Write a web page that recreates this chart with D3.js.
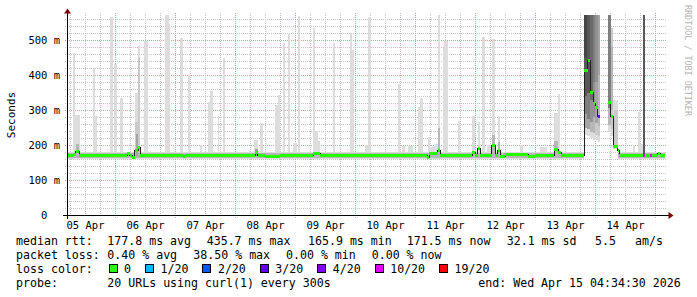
<!DOCTYPE html>
<html><head><meta charset="utf-8">
<script src="https://cdn.jsdelivr.net/npm/d3@7"></script>
<style>
html,body{margin:0;padding:0;background:#fff;}
svg{display:block;}
text{font-family:"DejaVu Sans Mono", monospace; white-space:pre;}
</style></head><body>
<svg id="chart" width="697" height="297"></svg>
<script>
// ---------------- data ----------------
const viewStartHour = 4.8;      // hours after 2026-04-05 00:00 UTC
const viewEndHour = 244.8;
const yMaxMs = 571.43;

const yTickValues = [0, 100, 200, 300, 400, 500];
const yTickLabels = ["0  ", "100 m", "200 m", "300 m", "400 m", "500 m"];
const dayLabels = ["05 Apr","06 Apr","07 Apr","08 Apr","09 Apr","10 Apr","11 Apr","12 Apr","13 Apr","14 Apr"];

// median rtt (ms) as a step series; null = no data
const medHour = [4.8,7.2,8.3,9.6,23.6,28.9,29.9,30.9,31.9,33.2,34.0,51.2,52.0,80.0,81.1,84.0,90.0,103.2,106.0,
  148.8,149.6,153.1,154.0,166.9,168.0,169.1,170.0,174.7,176.0,177.1,178.0,180.0,189.2,192.0,199.7,201.3,202.4,
  211.7,213.1,214.1,215.2,216.1,217.1,218.1,221.1,222.2,223.3,225.1,225.7,235.1,236.0,238.0,238.9,241.1,242.0,244.0];
const medValue = [172,175,182,171,172,178,172,167,187,195,172,169,172,180,172,170,172,177,172,
  166,178,186,172,180,172,191,171,199,171,187,170,174,169,171,190,180,172,
  415,442,351,320,310,283,null,323,284,196,186,172,172,172,172,172,178,171,171];
const medLoss = [0,0,0,0,0,0,0,0,0,0,0,0,0,0,0,0,0,0,0,
  0,0,0,0,0,0,0,0,0,0,0,0,0,0,0,0,0,0,
  0,0,0,0,0,4,0,0,0,0,0,0,10,0,10,0,0,0,0];

// smoke around the normal level
const bandStart = [4.8, 4.8, 225.3, 225.3];
const bandEnd   = [211.7, 211.7, 244.0, 244.0];
const bandLow   = [160, 163, 160, 163];
const bandHigh  = [181, 177, 181, 177];
const bandLevel = [1, 3, 1, 3];

// smoke spikes (ping spread), level 1 = outermost pair (lightest)
const smokeStart = [7.2,7.6,8.4,15.2,15.2,22.0,23.6,26.0,31.9,31.9,32.4,33.2,33.2,35.6,44.0,45.4,50.0,53.2,58.0,61.1,62.0,65.1,67.1,
  79.6,80.0,82.0,88.0,89.0,91.1,93.1,95.2,97.1,103.1,103.5,104.7,111.1,118.0,118.8,124.0,125.2,137.1,138.7,141.1,145.1,146.0,
  149.3,150.0,152.0,153.1,153.1,155.1,155.7,161.1,166.9,169.1,170.9,172.7,174.9,174.9,177.1,177.1,186.0,194.0,199.7,199.7,201.1,
  211.7,211.7,211.7,211.7,211.7, 212.8,212.8,212.8,212.8, 213.9,213.9,213.9,213.9, 215.0,215.0,215.0,215.0,
  216.1,216.1,216.1,216.1, 217.1,217.1,217.1,217.1, 221.1,221.1,221.1, 222.2,222.2,222.2, 223.3,223.7,
  231.2,233.1,234.0,235.1];
const smokeEnd = [8.0,10.0,9.6,16.0,16.8,23.2,24.8,27.2,33.2,33.2,33.2,34.0,34.0,37.2,45.4,46.0,51.1,54.0,58.8,62.3,63.1,65.7,68.0,
  81.1,81.1,83.2,89.6,90.0,92.0,94.0,96.7,98.0,104.0,105.1,106.0,112.0,118.8,119.6,125.2,126.2,138.0,140.0,143.3,146.3,147.3,
  150.1,152.0,153.3,154.0,154.0,156.0,157.1,162.0,168.0,170.0,172.0,174.0,176.0,176.0,178.0,178.0,187.3,196.8,201.3,201.3,202.0,
  212.8,212.8,212.8,212.8,212.8, 213.9,213.9,213.9,213.9, 215.0,215.0,215.0,215.0, 216.1,216.1,216.1,216.1,
  217.1,217.1,217.1,217.1, 218.1,218.1,218.1,218.1, 222.2,222.2,222.2, 223.3,223.3,223.3, 225.3,225.1,
  232.0,234.0,235.1,236.0];
const smokeLow = [165,165,168,165,165,165,165,165,165,168,170,165,168,165,165,165,165,165,165,165,165,165,165,
  165,168,165,165,165,165,165,165,165,165,165,165,165,165,165,165,165,165,165,165,165,165,
  165,165,165,165,168,165,165,165,165,165,165,165,165,168,165,168,165,165,165,168,165,
  228,250,290,340,450, 225,245,275,350, 220,238,265,330, 215,235,280,380,
  213,228,262,380, 210,225,255,400, 238,258,306, 226,245,300, 190,196,
  165,165,165,172];
const smokeHigh = [463,285,203,420,283,566,431,334,348,266,232,483,450,498,572,546,506,401,201,323,355,283,449,
  215,190,263,315,343,491,517,206,570,534,240,212,491,520,471,201,566,374,197,197,309,334,
  223,194,203,572,248,477,498,268,283,266,509,200,503,230,283,210,200,195,291,212,346,
  572,572,572,572,572, 572,572,572,572, 572,572,572,572, 572,572,572,572,
  572,572,572,572, 572,572,572,572, 572,572,572, 534,534,480, 329,300,
  201,294,203,572];
const smokeLevel = [1,1,3,1,1,1,1,1,1,2,4,1,2,1,1,1,1,1,1,1,1,1,1,
  1,4,1,1,1,1,1,1,1,1,1,1,1,1,1,1,1,1,1,1,1,1,
  1,1,1,1,3,1,1,1,1,1,1,1,1,3,1,3,1,1,1,3,1,
  1,4,6,8,9, 1,4,6,8, 1,3,5,7, 1,3,5,6,
  1,2,4,5, 1,2,3,4, 1,3,6, 1,2,3, 1,2,
  1,1,1,8];

const lossLevels = [0, 1, 2, 3, 4, 10, 19];
const lossLabels = ["0", "1/20", "2/20", "3/20", "4/20", "10/20", "19/20"];
const lossColors = ["#26ff00", "#00b8ff", "#0059ff", "#5e00ff", "#7e00ff", "#dd00ff", "#ff0000"];

const rttLabel = "median rtt:";
const rttStats = ["177.8 ms avg", "435.7 ms max", "165.9 ms min", "171.5 ms now", "32.1 ms sd", "5.5", "am/s"];
const lossLabel = "packet loss:";
const lossStats = ["0.40 % avg", "38.50 % max", "0.00 % min", "0.00 % now"];
const lossColorLabel = "loss color:";
const probeLabel = "probe:";
const probeText = "20 URLs using curl(1) every 300s";
const endText = "end: Wed Apr 15 04:34:30 2026";
const yAxisTitle = "Seconds";
const watermark = "RRDTOOL / TOBI OETIKER";

// ---------------- drawing ----------------
const baseDay = Date.UTC(2026, 3, 5);
const hourToDate = h => new Date(baseDay + h * 3600e3);

const svg = d3.select("#chart");
svg.append("rect").attr("width", 697).attr("height", 297).attr("fill", "#fff");

const x = d3.scaleUtc().domain([hourToDate(viewStartHour), hourToDate(viewEndHour)]).range([67, 667]);
const y = d3.scaleLinear().domain([0, yMaxMs]).range([215, 15]);
const [d0, d1] = x.domain();

// grid
const grid = svg.append("g").attr("shape-rendering", "crispEdges");
const minorY = d3.range(20, 561, 20).filter(v => v % 100 !== 0);
grid.selectAll("line.my").data(minorY).join("line")
  .attr("x1", 65).attr("x2", 667).attr("y1", d => Math.round(y(d)) + 0.5).attr("y2", d => Math.round(y(d)) + 0.5)
  .attr("stroke", "#c4c4c4").attr("stroke-dasharray", "1,1");
const minorX = d3.utcHour.every(6).range(d0, d1).filter(d => d.getUTCHours() !== 0);
grid.selectAll("line.mx").data(minorX).join("line")
  .attr("x1", d => Math.round(x(d)) + 0.5).attr("x2", d => Math.round(x(d)) + 0.5).attr("y1", 13).attr("y2", 217)
  .attr("stroke", "#c4c4c4").attr("stroke-dasharray", "1,1");
const majorY = yTickValues.filter(v => v > 0);
grid.selectAll("line.My").data(majorY).join("line")
  .attr("x1", 65).attr("x2", 667).attr("y1", d => Math.round(y(d)) + 0.5).attr("y2", d => Math.round(y(d)) + 0.5)
  .attr("stroke", "#e09a9a").attr("stroke-dasharray", "1,1");
const majorX = d3.utcDay.range(d0, d1);
grid.selectAll("line.Mx").data(majorX).join("line")
  .attr("x1", d => Math.round(x(d)) + 0.5).attr("x2", d => Math.round(x(d)) + 0.5).attr("y1", 13).attr("y2", 218)
  .attr("stroke", "#e09a9a").attr("stroke-dasharray", "1,1");

// smoke
const gray = lvl => { const c = Math.floor(190 / 10 * (10 - lvl)) + 50; return `rgb(${c},${c},${c})`; };
const plot = svg.append("g").attr("shape-rendering", "crispEdges");
svg.append("clipPath").attr("id", "pc").append("rect").attr("x", 67).attr("y", 15).attr("width", 600).attr("height", 200);
plot.attr("clip-path", "url(#pc)");

const bands = bandStart.map((s, i) => ({s, e: bandEnd[i], lo: bandLow[i], hi: bandHigh[i], lvl: bandLevel[i]}));
const smoke = smokeStart.map((s, i) => ({s, e: smokeEnd[i], lo: smokeLow[i], hi: smokeHigh[i], lvl: smokeLevel[i]}));
const allSmoke = bands.concat(smoke).sort((a, b) => a.lvl - b.lvl);
plot.selectAll("rect.smoke").data(allSmoke).join("rect")
  .attr("x", d => x(hourToDate(d.s))).attr("width", d => x(hourToDate(d.e)) - x(hourToDate(d.s)))
  .attr("y", d => y(d.hi)).attr("height", d => y(d.lo) - y(d.hi))
  .attr("fill", d => gray(d.lvl));

// median
const med = medHour.map((h, i) => ({h, v: medValue[i], loss: medLoss[i]}));
const line = d3.line().defined(d => d.v != null).curve(d3.curveStepAfter)
  .x(d => x(hourToDate(d.h))).y(d => Math.round(y(d.v)) + 0.5);
plot.append("path").datum(med).attr("d", line).attr("fill", "none").attr("stroke", "#202020").attr("stroke-width", 1);

const lossColor = d3.scaleThreshold().domain(lossLevels.slice(1)).range(lossColors);
const segs = med.slice(0, -1).map((d, i) => ({...d, e: med[i + 1].h})).filter(d => d.v != null);
plot.selectAll("rect.med").data(segs).join("rect")
  .attr("x", d => x(hourToDate(d.h))).attr("width", d => x(hourToDate(d.e)) - x(hourToDate(d.h)))
  .attr("y", d => Math.round(y(d.v)) - 1.5).attr("height", 3.5)
  .attr("fill", d => lossColor(d.loss));

// axes
const yAxis = d3.axisLeft(y).tickValues(yTickValues).tickFormat((d, i) => yTickLabels[i]).tickSize(0).tickPadding(7);
const gy = svg.append("g").attr("transform", "translate(67,0)").call(yAxis);
gy.select(".domain").remove();
gy.selectAll("text").attr("font-family", "DejaVu Sans Mono").attr("font-size", 10.5).attr("fill", "#000").attr("dy", null).attr("y", 3.3);

const noonTicks = majorX.map(d => new Date(+d - 12 * 3600e3)).concat([new Date(+majorX[majorX.length - 1] + 12 * 3600e3)]);
const xAxis = d3.axisBottom(x).tickValues(noonTicks).tickFormat((d, i) => dayLabels[i]).tickSize(0);
const gx = svg.append("g").attr("transform", "translate(0,215)").call(xAxis);
gx.select(".domain").remove();
gx.selectAll("text").attr("font-family", "DejaVu Sans Mono").attr("font-size", 10.5).attr("fill", "#000").attr("dy", null).attr("y", 13.5);

const axes = svg.append("g").attr("shape-rendering", "crispEdges");
axes.append("line").attr("x1", 63).attr("x2", 669).attr("y1", 215.5).attr("y2", 215.5).attr("stroke", "#000");
axes.append("line").attr("x1", 67.5).attr("x2", 67.5).attr("y1", 12).attr("y2", 219).attr("stroke", "#000");
svg.append("path").attr("d", "M67.5,8.5 L64,13.5 L71,13.5 Z").attr("fill", "#7f0000");
svg.append("path").attr("d", "M673.5,215.5 L668.5,212 L668.5,219 Z").attr("fill", "#7f0000");

// titles
svg.append("text").attr("transform", "translate(14.5,115) rotate(-90)").attr("text-anchor", "middle")
  .attr("font-size", 11).text(yAxisTitle);
svg.append("text").attr("transform", "translate(685,5) rotate(90)").attr("font-size", 8.4)
  .attr("fill", "#b4b4b4").text(watermark);

// legend
const leg = svg.append("g").attr("font-size", 11.6).attr("fill", "#000");
const L = [244.5, 258.5, 272.5, 286.5];
leg.append("text").attr("x", 16).attr("y", L[0]).text(rttLabel);
[107.3, 206.7, 308, 406.7, 506.7, 595, 635].forEach((px, i) => leg.append("text").attr("x", px).attr("y", L[0]).text(rttStats[i]));
leg.append("text").attr("x", 16).attr("y", L[1]).text(lossLabel);
[107.3, 193.3, 286, 371.7].forEach((px, i) => leg.append("text").attr("x", px).attr("y", L[1]).text(lossStats[i]));
leg.append("text").attr("x", 16).attr("y", L[2]).text(lossColorLabel);
let cx = 108.5;
lossLabels.forEach((lab, i) => {
  leg.append("rect").attr("x", cx + 0.5).attr("y", 264.5).attr("width", 8).attr("height", 8)
    .attr("fill", lossColors[i]).attr("stroke", "#000").attr("stroke-width", 1).attr("shape-rendering", "crispEdges");
  const t = leg.append("text").attr("x", cx + 15.5).attr("y", L[2]).text(lab);
  cx = cx + 15.5 + t.node().getComputedTextLength() + 14;
});
leg.append("text").attr("x", 16).attr("y", L[3]).text(probeLabel);
leg.append("text").attr("x", 107.3).attr("y", L[3]).text(probeText);
leg.append("text").attr("x", 478.3).attr("y", L[3]).text(endText);
</script></body></html>
